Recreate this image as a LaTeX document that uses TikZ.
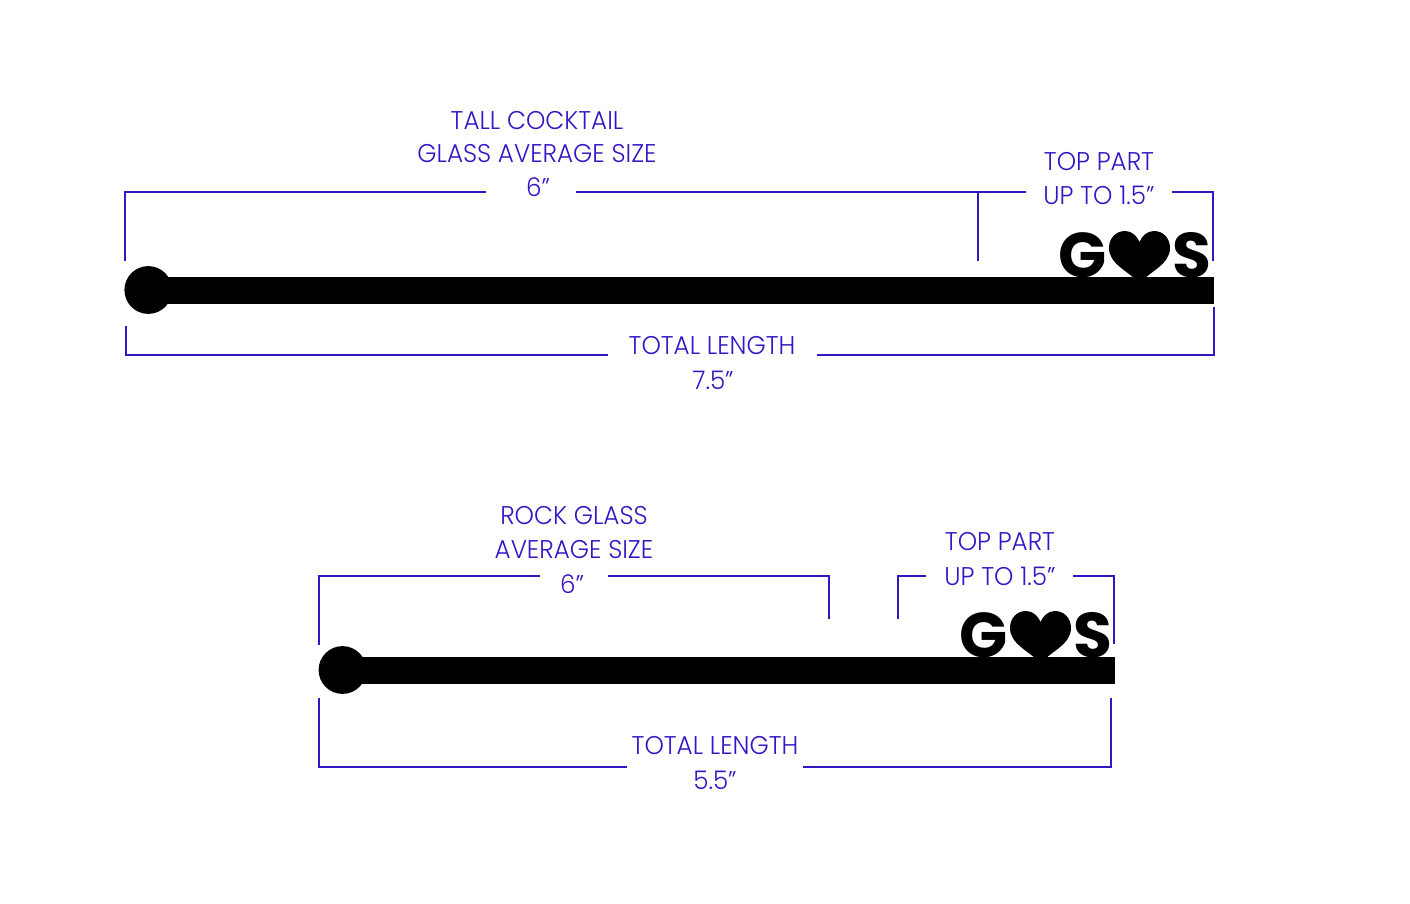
\documentclass[tikz,border=0pt]{standalone}
\usepackage{fontspec}
\usepackage{xcolor}
\usetikzlibrary{positioning}
\newfontfamily\dimfont[UprightFont=* Light]{Poppins}
\newfontfamily\logofont[UprightFont=* Bold]{Poppins}
\definecolor{dimblue}{HTML}{3515C4}
\tikzset{
    dimline/.style={draw=dimblue,line width=1.1pt},
    dimtext/.style={text=dimblue,font=\dimfont\fontsize{14.6}{16}\selectfont,inner sep=0pt,xscale=0.96},
    logotext/.style={text=black,font=\logofont\fontsize{36}{37}\selectfont,inner sep=0pt},
    knob/.style={circle,fill=black,minimum size=27.2pt,inner sep=0pt}
}
\begin{document}
\begin{tikzpicture}[x=0.02cm,y=-0.02cm]
    \useasboundingbox (0,0) rectangle (1410,903);
    % Dimension labels
    \foreach \n/\x/\y/\t in {tallA/537/121/TALL COCKTAIL, tallB/537/154/GLASS AVERAGE SIZE, tallC/538/187/6”,
        topA/1099/162/TOP PART, topB/1099/195/UP TO 1.5”, lenA/712/346/TOTAL LENGTH, lenB/713/380/7.5”,
        rockA/574/516/ROCK GLASS, rockB/574/550/AVERAGE SIZE, rockC/572/584/6”,
        ttopA/1000/542/TOP PART, ttopB/1000/576/UP TO 1.5”, tlenA/715/746/TOTAL LENGTH, tlenB/715/780/5.5”} {
        \node[dimtext] (\n) at (\x,\y) {\t};
    }
    % Bracket ends
    \foreach \n/\x/\y in {a1/125/261, a2/486/192, a3/576/192, a4/978/261, a5/1026/192,
        a6/1172/192, a7/1213/261, a8/126/326, a9/608/355, a10/817/355, a11/1214/307,
        b1/319/645, b2/540/576, b3/608/576, b4/829/619, b5/898/619, b6/926/576,
        b7/1073/576, b8/1114/644, b9/319/698, b10/627/767, b11/803/767, b12/1111/698,
        m1/978/192} {
        \coordinate (\n) at (\x,\y);
    }
    % Top brackets
    \draw[dimline] (a1) |- (a2);
    \draw[dimline] (a3) -- (a5);
    \draw[dimline] (m1) -- (a4);
    \draw[dimline] (a6) -| (a7);
    \draw[dimline] (a8) |- (a9);
    \draw[dimline] (a10) -| (a11);
    % Bottom brackets
    \draw[dimline] (b1) |- (b2);
    \draw[dimline] (b3) -| (b4);
    \draw[dimline] (b5) |- (b6);
    \draw[dimline] (b7) -| (b8);
    \draw[dimline] (b9) |- (b10);
    \draw[dimline] (b11) -| (b12);
    % Stirrers
    \foreach \p/\kx/\ky/\dx/\dy/\e in {t/148.3/290/0/0/1214, b/342.5/670/-99/380/1115} {
        \node[knob] (\p knob) at (\kx,\ky) {};
        \coordinate (\p end) at (\e,\ky);
        \fill (\p knob.center) ++(0,-13.5) rectangle (\e,\ky+13.5);
        \node[logotext] (\p G) at (1082.5+\dx,255.5+\dy) {G};
        \node[logotext] (\p S) at (1192+\dx,255.5+\dy) {S};
        \begin{scope}[shift={(\dx,\dy)}]
            \fill (1139.5,283) .. controls (1128,271) and (1109,264) .. (1109,248)
                .. controls (1109,238) and (1116,231) .. (1125,231)
                .. controls (1132,231) and (1137,236) .. (1139.5,242)
                .. controls (1142,236) and (1147,231) .. (1154,231)
                .. controls (1163,231) and (1170,238) .. (1170,248)
                .. controls (1170,264) and (1151,271) .. (1139.5,283) -- cycle;
        \end{scope}
    }
\end{tikzpicture}
\end{document}
